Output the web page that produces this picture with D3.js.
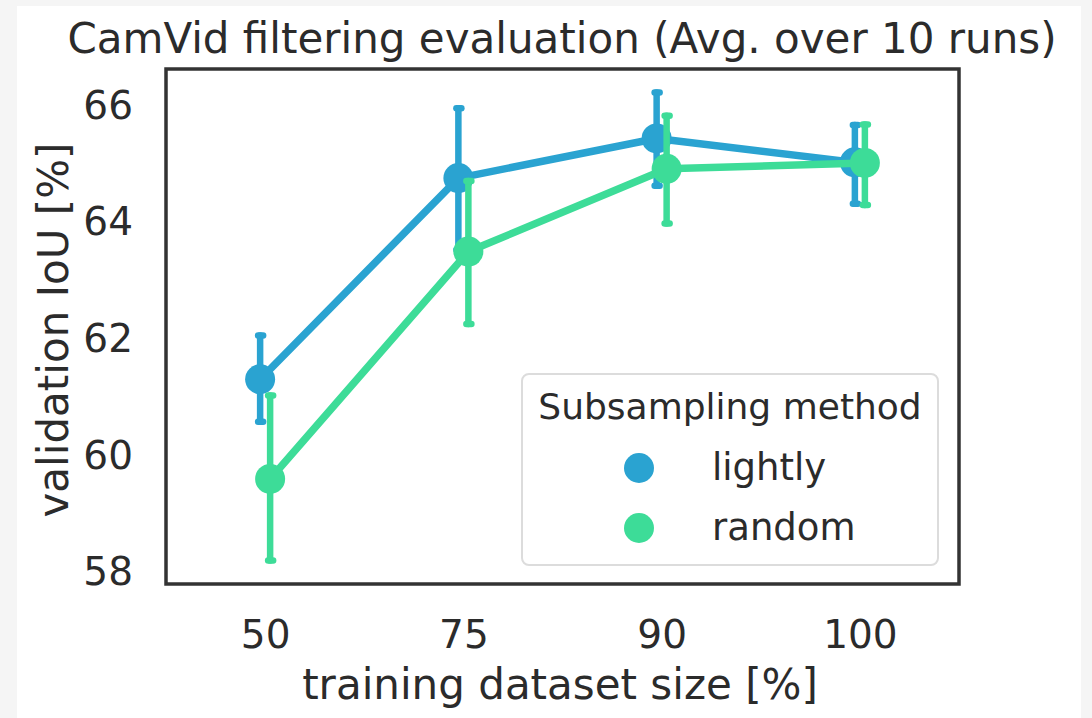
<!DOCTYPE html>
<html>
<head>
<meta charset="utf-8">
<script src="https://cdn.jsdelivr.net/npm/d3@7"></script>
<style>
  body { margin: 0; background: #f5f5f5; }
  text { font-family: "DejaVu Sans", sans-serif; fill: #2b2b2b; }
</style>
</head>
<body>
<div id="chart"></div>
<script>
// data
var sizes = ["50", "75", "90", "100"];
var methods = ["lightly", "random"];
var colors = ["#2aa3d1", "#3ddc98"];

var lightlyMean = [61.31, 64.76, 65.44, 65.03];
var lightlyLow  = [60.58, 63.53, 64.63, 64.32];
var lightlyHigh = [62.06, 65.96, 66.23, 65.67];

var randomMean = [59.60, 63.50, 64.92, 65.02];
var randomLow  = [58.20, 62.26, 63.98, 64.30];
var randomHigh = [61.03, 64.71, 65.83, 65.68];

var yTicks = [58, 60, 62, 64, 66];

var W = 1092, H = 718;
var margin = {left: 166, right: 133, top: 69, bottom: 134};
var w = W - margin.left - margin.right;
var h = H - margin.top - margin.bottom;

var series = [
  {name: methods[0], color: colors[0], mean: lightlyMean, lo: lightlyLow, hi: lightlyHigh, dodge: -5},
  {name: methods[1], color: colors[1], mean: randomMean, lo: randomLow, hi: randomHigh, dodge: 5}
];

var svg = d3.select("#chart").append("svg")
  .attr("width", W).attr("height", H);

// white card
svg.append("rect").attr("x", 17).attr("y", 6)
  .attr("width", 1064).attr("height", 712).attr("fill", "white");

var g = svg.append("g")
  .attr("transform", "translate(" + margin.left + "," + margin.top + ")");

var x = d3.scalePoint().domain(sizes).range([0, w]).padding(0.5);

var lo = d3.min(lightlyLow.concat(randomLow));
var hi = d3.max(lightlyHigh.concat(randomHigh));
var pad = (hi - lo) * 0.05;
var y = d3.scaleLinear().domain([lo - pad, hi + pad]).range([h, 0]);

var xaxis = d3.axisBottom(x).tickSize(0).tickPadding(36);
var yaxis = d3.axisLeft(y).tickValues(yTicks).tickSize(0).tickPadding(33);

var gx = g.append("g").attr("transform", "translate(0," + h + ")").call(xaxis);
var gy = g.append("g").call(yaxis);
[gx, gy].forEach(function(a) {
  a.select(".domain").remove();
  a.selectAll("text").style("font-size", "39px").style("font-family", "DejaVu Sans").attr("fill", "#2b2b2b");
});

// series
series.forEach(function(s) {
  var sg = g.append("g");
  var line = d3.line()
    .x(function(d, i) { return x(sizes[i]) + s.dodge; })
    .y(function(d) { return y(d); });

  sg.selectAll("line.err").data(sizes).enter().append("line")
    .attr("class", "err")
    .attr("x1", function(d) { return x(d) + s.dodge; })
    .attr("x2", function(d) { return x(d) + s.dodge; })
    .attr("y1", function(d, i) { return y(s.lo[i]); })
    .attr("y2", function(d, i) { return y(s.hi[i]); })
    .attr("stroke", s.color).attr("stroke-width", 6.5).attr("stroke-linecap", "round");

  // small caps
  ["lo", "hi"].forEach(function(k) {
    sg.selectAll("line.cap" + k).data(sizes).enter().append("line")
      .attr("x1", function(d) { return x(d) + s.dodge - 2; })
      .attr("x2", function(d) { return x(d) + s.dodge + 3; })
      .attr("y1", function(d, i) { return y(s[k][i]); })
      .attr("y2", function(d, i) { return y(s[k][i]); })
      .attr("stroke", s.color).attr("stroke-width", 6.5).attr("stroke-linecap", "round");
  });

  sg.append("path").datum(s.mean)
    .attr("d", line)
    .attr("fill", "none")
    .attr("stroke", s.color)
    .attr("stroke-width", 7.5)
    .attr("stroke-linejoin", "round");

  sg.selectAll("circle").data(s.mean).enter().append("circle")
    .attr("cx", function(d, i) { return x(sizes[i]) + s.dodge; })
    .attr("cy", function(d) { return y(d); })
    .attr("r", 15)
    .attr("fill", s.color);
});

// frame
g.append("rect").attr("x", 0).attr("y", 0).attr("width", w).attr("height", h)
  .attr("fill", "none").attr("stroke", "#333").attr("stroke-width", 3.5);

// title and labels
svg.append("text").attr("x", 562).attr("y", 53)
  .attr("text-anchor", "middle").style("font-size", "42px")
  .text("CamVid filtering evaluation (Avg. over 10 runs)");

svg.append("text").attr("x", 560).attr("y", 699)
  .attr("text-anchor", "middle").style("font-size", "42px")
  .text("training dataset size [%]");

svg.append("text")
  .attr("transform", "translate(68,330)rotate(-90)")
  .attr("text-anchor", "middle").style("font-size", "42px")
  .text("validation IoU [%]");

// legend
var lg = svg.append("g").attr("transform", "translate(522,374)");
lg.append("rect").attr("width", 416).attr("height", 191).attr("rx", 7)
  .attr("fill", "white").attr("fill-opacity", 0.8)
  .attr("stroke", "#dcdcdc").attr("stroke-width", 2);
lg.append("text").attr("x", 208).attr("y", 45).attr("text-anchor", "middle")
  .style("font-size", "36px").text("Subsampling method");
series.forEach(function(s, i) {
  lg.append("circle").attr("cx", 117).attr("cy", 94 + i * 60).attr("r", 15).attr("fill", s.color);
  lg.append("text").attr("x", 190).attr("y", 106 + i * 60)
    .style("font-size", "37px").text(s.name);
});
</script>
</body>
</html>
